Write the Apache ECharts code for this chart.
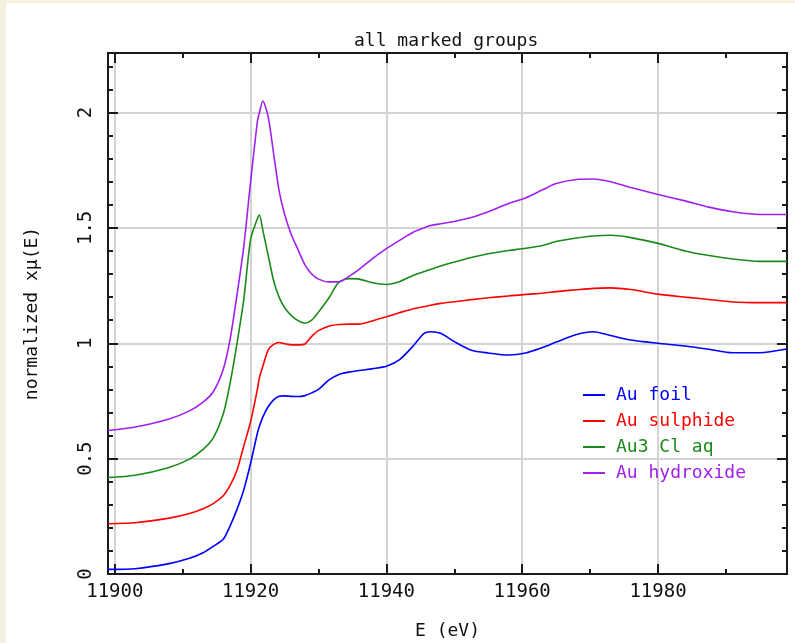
<!DOCTYPE html>
<html>
<head>
<meta charset="utf-8">
<script src="https://cdn.jsdelivr.net/npm/echarts@6/dist/echarts.min.js"></script>
<style>
  html, body { margin: 0; padding: 0; background: #f4f1e0; }
  #chart { position: absolute; left: 6px; top: 3px; width: 789px; height: 640px; background: #ffffff; }
</style>
</head>
<body>
<div id="chart"></div>
<script>
// energies (eV) shared by all four spectra
const energy = [11899, 11903, 11908, 11911, 11913, 11914.5, 11916, 11917, 11918, 11919,
  11920, 11921, 11921.3, 11921.8, 11922.6, 11923.4, 11924.2, 11925, 11926, 11927,
  11928, 11929, 11930, 11931.5, 11933, 11934.5, 11936, 11938, 11940, 11942,
  11944, 11945.5, 11946.5, 11948, 11950, 11952.5, 11955, 11958, 11960.5, 11963,
  11965, 11968, 11970.5, 11973, 11976, 11980, 11984, 11987.5, 11991, 11995, 11999];

const auFoil = [0.02, 0.023, 0.045, 0.068, 0.092, 0.12, 0.152, 0.21, 0.28, 0.365,
  0.48, 0.61, 0.64, 0.68, 0.726, 0.755, 0.77, 0.772, 0.77, 0.769,
  0.773, 0.785, 0.8, 0.84, 0.865, 0.875, 0.882, 0.89, 0.9, 0.93,
  0.99, 1.042, 1.05, 1.043, 1.007, 0.97, 0.958, 0.949, 0.958, 0.982,
  1.005, 1.038, 1.05, 1.034, 1.014, 1.0, 0.988, 0.974, 0.959, 0.959, 0.975];

const auSulphide = [0.218, 0.222, 0.242, 0.262, 0.283, 0.305, 0.34, 0.385, 0.45, 0.555,
  0.66, 0.8, 0.85, 0.9, 0.971, 0.995, 1.003, 0.998, 0.993, 0.993,
  0.997, 1.03, 1.055, 1.074, 1.081, 1.083, 1.083, 1.098, 1.115, 1.133,
  1.15, 1.158, 1.165, 1.173, 1.18, 1.189, 1.197, 1.205, 1.212, 1.217,
  1.224, 1.232, 1.238, 1.24, 1.233, 1.213, 1.2, 1.19, 1.179, 1.176, 1.176];

const au3ClAq = [0.418, 0.428, 0.462, 0.498, 0.54, 0.59, 0.697, 0.83, 1.0, 1.19,
  1.45, 1.54, 1.556, 1.49, 1.38, 1.27, 1.2, 1.155, 1.12, 1.098,
  1.087, 1.1, 1.135, 1.195, 1.265, 1.28, 1.278, 1.262, 1.255, 1.268,
  1.295, 1.31, 1.32, 1.335, 1.352, 1.372, 1.388, 1.402, 1.412, 1.424,
  1.441, 1.456, 1.465, 1.468, 1.458, 1.433, 1.4, 1.38, 1.365, 1.355, 1.355];

const auHydroxide = [0.622, 0.637, 0.672, 0.707, 0.745, 0.79, 0.89, 1.02, 1.21, 1.42,
  1.7, 1.96, 2.0, 2.05, 1.98, 1.82, 1.66, 1.56, 1.47, 1.405,
  1.34, 1.3, 1.278, 1.266, 1.266, 1.29, 1.32, 1.368, 1.41, 1.447,
  1.482, 1.5, 1.51, 1.518, 1.528, 1.545, 1.57, 1.606, 1.63, 1.665,
  1.692, 1.71, 1.712, 1.7, 1.675, 1.645, 1.617, 1.59, 1.57, 1.558, 1.558];

const seriesNames = ['Au foil', 'Au sulphide', 'Au3 Cl aq', 'Au hydroxide'];
const seriesColors = ['#0000ff', '#ff0000', '#1a8a1a', '#a020f0'];

const xMajorTicks = [11900, 11920, 11940, 11960, 11980];
const xMinorTicks = [11910, 11930, 11950, 11970, 11990];
const yMajorTicks = [0, 0.5, 1, 1.5, 2];
const yMinorTicks = [0.1, 0.2, 0.3, 0.4, 0.6, 0.7, 0.8, 0.9, 1.1, 1.2, 1.3, 1.4,
  1.6, 1.7, 1.8, 1.9, 2.1, 2.2];

const FONT = 'DejaVu Sans Mono';
const xMin = 11899, xMax = 11999, yMin = 0, yMax = 2.258;
const lineStyle = { color: '#1a1a1a', width: 2 };

function xAxis(position, ticks, len, opts) {
  return Object.assign({
    type: 'value', position: position, min: xMin, max: xMax,
    axisLine: { show: true, onZero: false, lineStyle: lineStyle },
    axisTick: { show: true, inside: true, length: len, customValues: ticks, lineStyle: lineStyle },
    axisLabel: { show: false },
    splitLine: { show: false }
  }, opts || {});
}
function yAxis(position, ticks, len, opts) {
  return Object.assign({
    type: 'value', position: position, min: yMin, max: yMax,
    axisLine: { show: true, onZero: false, lineStyle: lineStyle },
    axisTick: { show: true, inside: true, length: len, customValues: ticks, lineStyle: lineStyle },
    axisLabel: { show: false },
    splitLine: { show: false }
  }, opts || {});
}

const dataSets = [auFoil, auSulphide, au3ClAq, auHydroxide];

const chart = echarts.init(document.getElementById('chart'), null, { renderer: 'canvas' });
chart.setOption({
  animation: false,
  backgroundColor: '#ffffff',
  title: {
    text: 'all marked groups',
    left: 343, top: 24,
    textStyle: { fontFamily: FONT, fontSize: 18, fontWeight: 'normal', color: '#111' }
  },
  grid: { left: 102, right: 8, top: 50, bottom: 69, outerBoundsMode: 'none', containLabel: false },
  legend: {
    orient: 'vertical', left: 577, top: 383, padding: 0,
    itemWidth: 22, itemHeight: 2, itemGap: 8, icon: 'rect',
    textStyle: { fontFamily: FONT, fontSize: 18, lineHeight: 18, padding: [0, 0, 0, 6] },
    data: seriesNames.map((n, i) => ({ name: n, textStyle: { color: seriesColors[i] } }))
  },
  xAxis: [
    xAxis('bottom', xMajorTicks, 10, {
      name: 'E (eV)', nameLocation: 'middle', nameGap: 48,
      nameTextStyle: { fontFamily: FONT, fontSize: 18, color: '#111' },
      axisLabel: { show: true, customValues: xMajorTicks, margin: 9,
        formatter: v => String(v),
        fontFamily: FONT, fontSize: 19, color: '#111' },
      splitLine: { show: true, lineStyle: { color: '#d4d4d4', width: 2 } }
    }),
    xAxis('bottom', xMinorTicks, 5),
    xAxis('top', xMajorTicks, 10),
    xAxis('top', xMinorTicks, 5)
  ],
  yAxis: [
    yAxis('left', yMajorTicks, 10, {
      name: 'normalized xμ(E)', nameLocation: 'middle', nameGap: 67,
      nameTextStyle: { fontFamily: FONT, fontSize: 18, color: '#111' },
      axisLabel: { show: true, customValues: yMajorTicks, rotate: 90, margin: 12,
        formatter: v => String(v),
        fontFamily: FONT, fontSize: 19, color: '#111' },
      splitLine: { show: true, lineStyle: { color: '#d4d4d4', width: 2 } }
    }),
    yAxis('left', yMinorTicks, 5),
    yAxis('right', yMajorTicks, 10),
    yAxis('right', yMinorTicks, 5)
  ],
  series: dataSets.map((vals, i) => ({
    name: seriesNames[i],
    type: 'line',
    xAxisIndex: 0, yAxisIndex: 0,
    showSymbol: false,
    smooth: 0.25,
    color: seriesColors[i],
    lineStyle: { color: seriesColors[i], width: 1.6 },
    data: energy.map((e, j) => [e, vals[j]])
  }))
});
</script>
</body>
</html>
